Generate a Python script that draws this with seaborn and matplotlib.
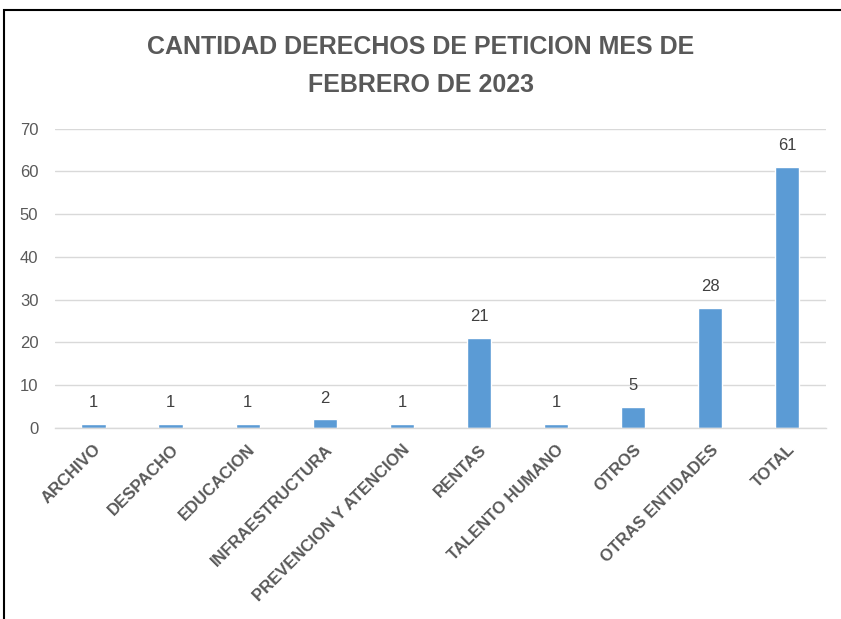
import matplotlib
matplotlib.use("Agg")
import matplotlib.pyplot as plt
import seaborn as sns
from matplotlib.patches import Rectangle

# Data
categorias = ["ARCHIVO", "DESPACHO", "EDUCACION", "INFRAESTRUCTURA",
              "PREVENCION Y ATENCION", "RENTAS", "TALENTO HUMANO",
              "OTROS", "OTRAS ENTIDADES", "TOTAL"]
cantidades = [1, 1, 1, 2, 1, 21, 1, 5, 28, 61]
yticks = [0, 10, 20, 30, 40, 50, 60, 70]

sns.set_style("white")
plt.rcParams['font.family'] = ['Liberation Sans', 'DejaVu Sans']

fig = plt.figure(figsize=(8.41, 6.19), dpi=100)
ax = fig.add_axes([0.0654, 0.3086, 0.9166, 0.4834])

sns.barplot(x=categorias, y=cantidades, color="#5B9BD5", width=0.315,
            saturation=1, ax=ax)

ax.set_ylim(0, 70)
ax.set_xlim(-0.5, len(categorias) - 0.5)
ax.set_yticks(yticks)
ax.yaxis.grid(True, color="#D9D9D9", linewidth=1)
ax.set_axisbelow(True)
for s in ["top", "right", "left"]:
    ax.spines[s].set_visible(False)
ax.spines["bottom"].set_color("#D9D9D9")
ax.spines["bottom"].set_linewidth(1)
ax.tick_params(axis="both", length=0)
ax.tick_params(axis="y", labelsize=12, labelcolor="#595959", pad=12)
ax.set_xticks(range(len(categorias)))
ax.set_xticklabels(categorias, rotation=45, ha="right", va="top",
                   rotation_mode="anchor", fontsize=12, fontweight="bold",
                   color="#595959")
ax.tick_params(axis="x", pad=10)
ax.set_xlabel("")
ax.set_ylabel("")

for i, v in enumerate(cantidades):
    ax.annotate(str(v), (i, v), xytext=(0, 10), textcoords="offset points",
                ha="center", va="bottom", fontsize=12, color="#404040")

fig.text(0.5, 0.893, "CANTIDAD DERECHOS DE PETICION MES DE\nFEBRERO DE 2023",
         ha="center", va="center", fontsize=18, fontweight="bold",
         color="#595959", linespacing=1.75)

# chart border
fig.patches.append(Rectangle((4 / 841, -0.05), 1.1, 1 - 10 / 619 + 0.05,
                             transform=fig.transFigure, fill=False,
                             edgecolor="black", linewidth=1.5))

fig.savefig("out.png", dpi=100)
